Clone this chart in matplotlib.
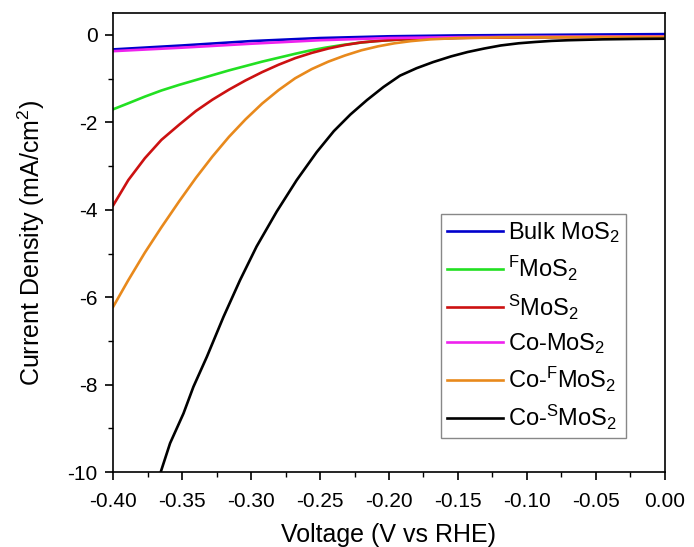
import matplotlib
matplotlib.use("Agg")
import matplotlib.pyplot as plt
from matplotlib.ticker import MultipleLocator

plt.rcParams["font.family"] = "Liberation Sans"
plt.rcParams["mathtext.fontset"] = "custom"
plt.rcParams["mathtext.rm"] = "Liberation Sans"
plt.rcParams["mathtext.it"] = "Liberation Sans:italic"
plt.rcParams["axes.unicode_minus"] = False

# values (V vs RHE, mA/cm^2)
v_bulk = [-0.40, -0.35, -0.30, -0.25, -0.20, -0.15, -0.10, -0.05, 0.00]
j_bulk = [-0.33, -0.24, -0.14, -0.07, -0.03, -0.01, 0.00, 0.01, 0.02]

v_f = [-0.400, -0.388, -0.377, -0.365, -0.352, -0.340, -0.328, -0.316, -0.304, -0.292, -0.280,
       -0.268, -0.258, -0.246, -0.234, -0.222, -0.210, -0.195, -0.180, -0.160, -0.120, -0.060, 0.00]
j_f = [-1.70, -1.55, -1.41, -1.27, -1.14, -1.03, -0.92, -0.81, -0.71, -0.61, -0.52,
       -0.43, -0.36, -0.29, -0.23, -0.18, -0.14, -0.11, -0.09, -0.07, -0.05, -0.04, -0.035]

v_s = [-0.400, -0.389, -0.377, -0.365, -0.352, -0.340, -0.328, -0.316, -0.304, -0.292, -0.280,
       -0.268, -0.256, -0.244, -0.232, -0.220, -0.205, -0.190, -0.170, -0.140, -0.100, -0.050, 0.00]
j_s = [-3.90, -3.32, -2.82, -2.40, -2.05, -1.74, -1.48, -1.25, -1.04, -0.85, -0.68,
       -0.53, -0.41, -0.31, -0.23, -0.17, -0.13, -0.10, -0.08, -0.065, -0.055, -0.045, -0.04]

v_co = [-0.40, -0.35, -0.30, -0.25, -0.20, -0.15, -0.10, -0.05, 0.00]
j_co = [-0.37, -0.29, -0.20, -0.12, -0.07, -0.05, -0.04, -0.035, -0.03]

v_cof = [-0.400, -0.389, -0.377, -0.365, -0.352, -0.340, -0.328, -0.316, -0.304, -0.292, -0.280,
         -0.268, -0.256, -0.244, -0.232, -0.220, -0.208, -0.196, -0.184, -0.170, -0.150, -0.120,
         -0.080, -0.040, 0.00]
j_cof = [-6.22, -5.61, -4.98, -4.40, -3.80, -3.27, -2.78, -2.33, -1.93, -1.57, -1.26,
         -0.99, -0.78, -0.61, -0.47, -0.35, -0.26, -0.19, -0.14, -0.10, -0.07, -0.055,
         -0.05, -0.045, -0.04]

v_cos = [-0.3655, -0.3587, -0.349, -0.3418, -0.332, -0.320, -0.308, -0.296, -0.2814, -0.2669,
         -0.2524, -0.240, -0.228, -0.216, -0.204, -0.192, -0.180, -0.168, -0.155, -0.143,
         -0.131, -0.119, -0.106, -0.094, -0.082, -0.070, -0.045, -0.020, 0.00]
j_cos = [-10.0, -9.34, -8.66, -8.05, -7.36, -6.45, -5.61, -4.84, -4.04, -3.32,
         -2.68, -2.20, -1.82, -1.49, -1.19, -0.93, -0.76, -0.62, -0.49, -0.39,
         -0.31, -0.24, -0.19, -0.16, -0.135, -0.12, -0.10, -0.09, -0.085]

fig = plt.figure(figsize=(6.94, 5.47), dpi=100)
ax = fig.add_axes([0.163, 0.137, 0.795, 0.839])

lw = 1.9
ax.plot(v_bulk, j_bulk, color="#0000cc", lw=lw, label="Bulk MoS$_2$")
ax.plot(v_f, j_f, color="#22e022", lw=lw, label="$^\\mathregular{F}$MoS$_2$")
ax.plot(v_s, j_s, color="#cc1111", lw=lw, label="$^\\mathregular{S}$MoS$_2$")
ax.plot(v_co, j_co, color="#ee22ee", lw=lw, label="Co-MoS$_2$")
ax.plot(v_cof, j_cof, color="#e8891c", lw=lw, label="Co-$^\\mathregular{F}$MoS$_2$")
ax.plot(v_cos, j_cos, color="black", lw=lw, label="Co-$^\\mathregular{S}$MoS$_2$")

ax.set_xlim(-0.40, 0.00)
ax.set_ylim(-10, 0.5)
ax.xaxis.set_major_locator(MultipleLocator(0.05))
ax.xaxis.set_minor_locator(MultipleLocator(0.025))
ax.yaxis.set_major_locator(MultipleLocator(2))
ax.yaxis.set_minor_locator(MultipleLocator(1))
ax.set_xticklabels([f"{t:.2f}" for t in ax.get_xticks()])
ax.tick_params(which="major", direction="out", length=6, width=1.2, labelsize=15)
ax.tick_params(which="minor", direction="out", length=3.5, width=1.0)
ax.tick_params(axis="x", which="major", pad=8)
ax.tick_params(axis="y", which="major", pad=5)
for s in ax.spines.values():
    s.set_linewidth(1.2)

ax.set_xlabel("Voltage (V vs RHE)", fontsize=18, labelpad=9)
ax.set_ylabel("Current Density (mA/cm$^2$)", fontsize=18, labelpad=15)

leg = ax.legend(loc="upper left", bbox_to_anchor=(0.594, 0.562), fontsize=17,
                fancybox=False, edgecolor="#888888", framealpha=1, borderaxespad=0,
                handlelength=2.4, handletextpad=0.2, labelspacing=0.39, borderpad=0.25)
leg.get_frame().set_linewidth(1.0)

fig.savefig("out.png", dpi=100)
